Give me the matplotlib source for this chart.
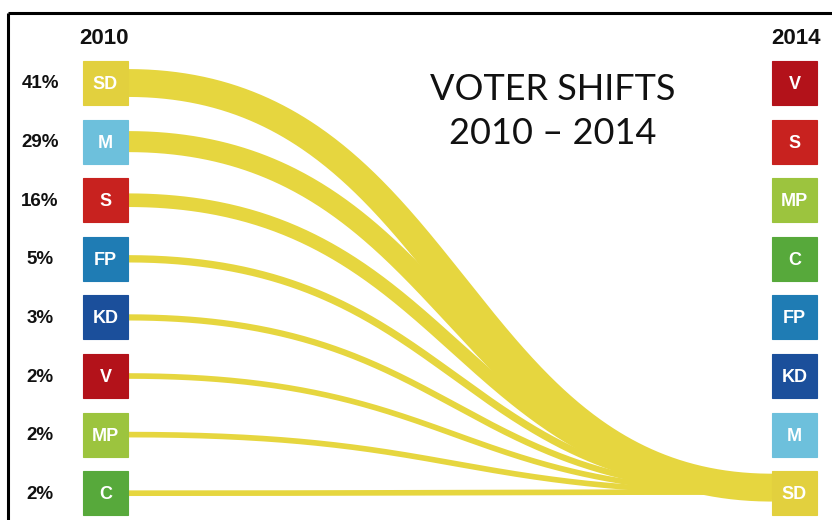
import numpy as np
import matplotlib
matplotlib.use("Agg")
import matplotlib.pyplot as plt
from matplotlib.patches import Rectangle

# data
parties_2010 = ["SD", "M", "S", "FP", "KD", "V", "MP", "C"]
share_2010 = [41, 29, 16, 5, 3, 2, 2, 2]
parties_2014 = ["V", "S", "MP", "C", "FP", "KD", "M", "SD"]
target_party = "SD"

party_colors = {
    "SD": "#E2D03E", "M": "#6DC0DC", "S": "#C8221F", "FP": "#1F7CB4",
    "KD": "#1B4F9B", "V": "#B3121A", "MP": "#9CC43E", "C": "#57A93B",
}
band_color = "#E6D63F"

W, H = 832, 520
fig = plt.figure(figsize=(W / 100, H / 100), dpi=100, facecolor="white")
ax = fig.add_axes([0, 0, 1, 1])
ax.set_xlim(0, W)
ax.set_ylim(H, 0)
ax.axis("off")

# frame (only top + left visible)
ax.plot([8, W], [13, 13], color="black", lw=2.2, solid_capstyle="butt")
ax.plot([8, 8], [13, H], color="black", lw=2.2, solid_capstyle="butt")

row0, row_gap = 83, 58.6
box_w, box_h = 45, 44
left_x, right_x = 83, 772
rows = [row0 + i * row_gap for i in range(len(parties_2010))]
right_row = {p: row0 + i * row_gap for i, p in enumerate(parties_2014)}

# bands: cubic bezier, horizontal tangents at both ends
x0, x1 = left_x + box_w, right_x
xm = 455
t = np.linspace(0, 1, 300)
bx = x0 * (1 - t) ** 3 + xm * 3 * t * (1 - t) + x1 * t ** 3
by_frac = 3 * t ** 2 * (1 - t) + t ** 3
y_end_base = right_row[target_party]
for p, s, y0 in sorted(zip(parties_2010, share_2010, rows), key=lambda r: r[1]):
    w = 4.5 + 0.57 * s
    y1 = y_end_base - 0.2 * w
    ys = y0 + (y1 - y0) * by_frac
    ax.plot(bx, ys, color=band_color, lw=w * 0.72, solid_capstyle="butt", zorder=2)

def party_box(x, y, p):
    ax.add_patch(Rectangle((x, y - box_h / 2), box_w, box_h, facecolor=party_colors[p],
                           edgecolor=party_colors[p], lw=0.8, zorder=3))
    ax.text(x + box_w / 2, y + 1.5, p, color="white", fontsize=13, fontweight="bold",
            family="Liberation Sans", ha="center", va="center", zorder=4)

for p, s, y in zip(parties_2010, share_2010, rows):
    party_box(left_x, y, p)
    ax.text(40, y + 1, f"{s}%", color="#111111", fontsize=13.5, fontweight="bold",
            family="Liberation Sans", ha="center", va="center")

for p in parties_2014:
    party_box(right_x, right_row[p], p)

ax.text(left_x + box_w / 2 - 1, 38, "2010", fontsize=16, fontweight="bold",
        family="Liberation Sans", ha="center", va="center", color="#111111")
ax.text(right_x + box_w / 2 + 1, 38, "2014", fontsize=16, fontweight="bold",
        family="Liberation Sans", ha="center", va="center", color="#111111")

ax.text(553, 90, "VOTER SHIFTS", fontsize=26, family="Lato", ha="center", va="center",
        color="#111111")
ax.text(553, 134, "2010 \u2013 2014", fontsize=26, family="Lato", ha="center", va="center",
        color="#111111")

fig.savefig("out.png", dpi=100, facecolor="white")
